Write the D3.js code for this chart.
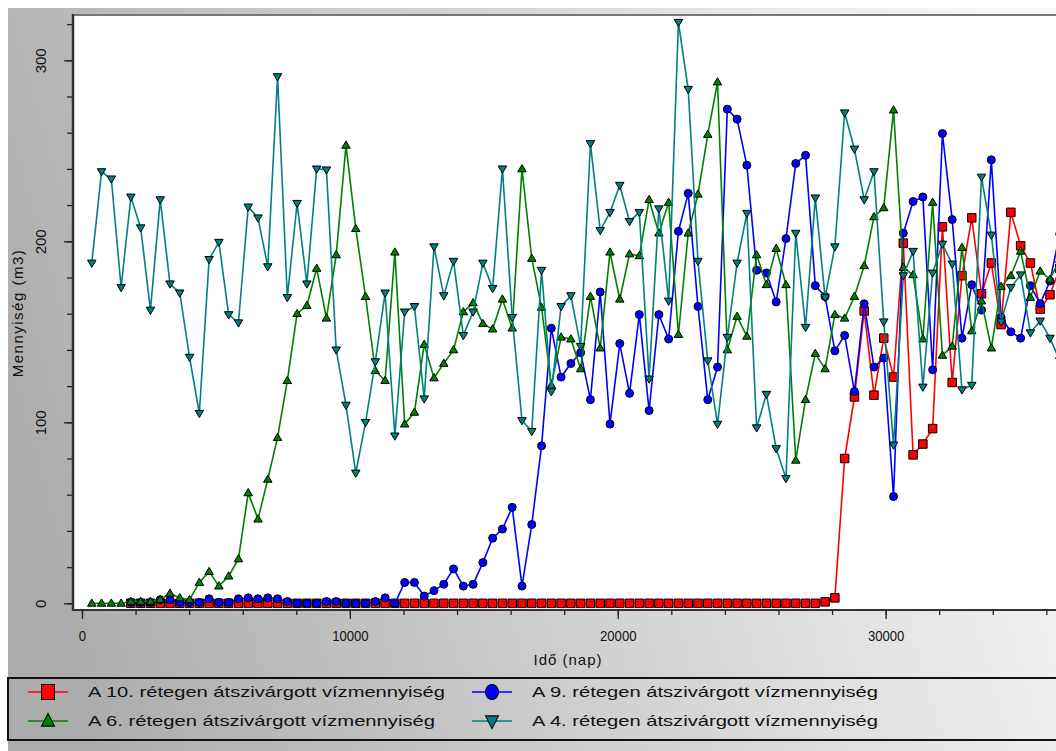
<!DOCTYPE html>
<html>
<head>
<meta charset="utf-8">
<script src="https://cdn.jsdelivr.net/npm/d3@7"></script>
<style>
  body { margin: 0; background: #fff; }
  svg { display: block; font-family: "Liberation Sans", Arial, sans-serif; }
</style>
</head>
<body>
<svg id="chart" width="1056" height="751"></svg>
<script>
// time axis (days), one point per year
const days = [
  365, 730, 1095, 1460, 1825, 2190, 2555, 2920, 3285, 3650,
  4015, 4380, 4745, 5110, 5475, 5840, 6205, 6570, 6935, 7300,
  7665, 8030, 8395, 8760, 9125, 9490, 9855, 10220, 10585, 10950,
  11315, 11680, 12045, 12410, 12775, 13140, 13505, 13870, 14235, 14600,
  14965, 15330, 15695, 16060, 16425, 16790, 17155, 17520, 17885, 18250,
  18615, 18980, 19345, 19710, 20075, 20440, 20805, 21170, 21535, 21900,
  22265, 22630, 22995, 23360, 23725, 24090, 24455, 24820, 25185, 25550,
  25915, 26280, 26645, 27010, 27375, 27740, 28105, 28470, 28835, 29200,
  29565, 29930, 30295, 30660, 31025, 31390, 31755, 32120, 32485, 32850,
  33215, 33580, 33945, 34310, 34675, 35040, 35405, 35770, 36135, 36500
];

const layer10 = [
  null, null, null, null, 0, 0, 0, 0, 0, 0,
  0, 0, 0, 0, 0, 0, 0, 0, 0, 0,
  0, 0, 0, 0, 0, 0, 0, 0, 0, 0,
  0, 0, 0, 0, 0, 0, 0, 0, 0, 0,
  0, 0, 0, 0, 0, 0, 0, 0, 0, 0,
  0, 0, 0, 0, 0, 0, 0, 0, 0, 0,
  0, 0, 0, 0, 0, 0, 0, 0, 0, 0,
  0, 0, 0, 0, 0, 0.8, 3, 80, 114, 161.5,
  115, 146.5, 125, 199, 82, 88, 96.5, 208, 122, 181,
  213, 171, 188, 154, 216, 197.5, 188, 162.5, 170.5, 185
];

const layer9 = [
  null, null, null, null, 0.5, 0.5, 0.5, 2, 2, 0.5,
  0.5, 0.5, 2.5, 0.5, 0.5, 2.5, 3, 2.5, 3, 2.5,
  1, 0, 0, 0, 1, 1, 0, 0, 0, 1,
  3, 0, 11.5, 11.5, 4, 7, 10.5, 19, 9.5, 10.5,
  22.5, 36, 41, 53, 9.5, 43.5, 87, 152, 125, 132.5,
  138.5, 112.5, 172, 99, 143.5, 116, 159.5, 106.5, 159.5, 146,
  205.5, 226.5, 164, 112.5, 130.5, 273, 267.5, 242, 184, 182.5,
  166.5, 201.5, 243, 247.5, 175.5, 169.5, 139.5, 148, 117, 165.5,
  130.5, 135.5, 59, 204.5, 222, 224.5, 129, 259.5, 212, 146.5,
  176, 162, 245, 158, 150, 146.5, 175.5, 165.5, 178, 204
];

const layer6 = [
  0, 0, 0, 0, 1, 1, 1, 2, 5.5, 3,
  2, 11.5, 17.5, 9.5, 15, 24.5, 61, 46.5, 68.5, 91.5,
  123, 160, 164.5, 185, 157.5, 192.5, 253, 207, 169.5, 128.5,
  123, 194, 99, 105.5, 143, 124.5, 132.5, 140, 161, 166,
  154.5, 151.5, 168, 152, 240, 190.5, 163.5, 120.5, 147, 146,
  129.5, 169.5, 141, 194, 168, 193, 192, 223, 204.5, 221.5,
  148.5, 204.5, 226, 259, 288, 140, 158.5, 147.5, 192.5, 176,
  196, 176, 79, 112.5, 138, 129.5, 159.5, 157.5, 169.5, 186.5,
  213.5, 218.5, 272.5, 185.5, 181.5, 146, 221.5, 137, 142, 196.5,
  150.5, 167, 141, 175, 181, 194.5, 169, 183.5, 179, 190
];

const layer4 = [
  188, 238.5, 234.5, 174.5, 224.5, 207.5, 162, 223, 176.5, 171.5,
  136, 105, 190, 199.5, 159.5, 155, 219, 213, 186, 291,
  169, 221, 176.5, 240, 239.5, 140, 109.5, 72, 100, 133.5,
  171.5, 92.5, 161, 164, 113, 197, 170, 189, 148, 161,
  188, 174, 240, 158, 101, 95, 184, 117, 164, 170,
  142, 254, 206, 216, 231, 211, 216, 124, 218, 167,
  321, 284, 189, 134, 99, 147, 188, 215.5, 97, 115.5,
  85.5, 69, 204.5, 152.5, 224, 169, 197, 271, 251, 223,
  238.5, 155.5, 87.5, 181, 194.5, 119.5, 182.5, 198.5, 187.5, 118,
  120.5, 235.5, 203.5, 155.5, 174.5, 181.5, 149.5, 156, 146.5, 134
];

const seriesLabels = [
  "A 10. rétegen átszivárgott vízmennyiség",
  "A 9. rétegen átszivárgott vízmennyiség",
  "A 6. rétegen átszivárgott vízmennyiség",
  "A 4. rétegen átszivárgott vízmennyiség"
];
const xTicks = [0, 10000, 20000, 30000];
const yTicks = [0, 100, 200, 300];

const series = [
  { label: seriesLabels[0], values: layer10, color: "#ff0000", shape: "square" },
  { label: seriesLabels[1], values: layer9, color: "#0000ff", shape: "circle" },
  { label: seriesLabels[2], values: layer6, color: "#008000", shape: "up" },
  { label: seriesLabels[3], values: layer4, color: "#008080", shape: "down" }
];

const svg = d3.select("#chart");
const plot = { left: 73, top: 15, right: 1062, bottom: 610 };

const x = d3.scaleLinear().domain([0, 36360]).range([82, 1056]);
const y = d3.scaleLinear().domain([0, 300]).range([603.3, 60.3]);

// background
const defs = svg.append("defs");
const grad = defs.append("linearGradient").attr("id", "bg")
  .attr("x1", 0).attr("y1", 0.6).attr("x2", 1).attr("y2", 0.4);
grad.append("stop").attr("offset", 0).attr("stop-color", "#acacac");
grad.append("stop").attr("offset", 1).attr("stop-color", "#f7f7f7");

svg.append("rect").attr("x", 8).attr("y", 8).attr("width", 1060).attr("height", 750)
  .attr("fill", "url(#bg)");

defs.append("clipPath").attr("id", "clip")
  .append("rect").attr("x", plot.left).attr("y", plot.top)
  .attr("width", plot.right - plot.left).attr("height", plot.bottom - plot.top);

svg.append("rect").attr("x", plot.left).attr("y", plot.top)
  .attr("width", plot.right - plot.left).attr("height", plot.bottom - plot.top)
  .attr("fill", "#fff");

// marker shapes
function marker(shape, s) {
  if (shape === "square") return d3.symbol(d3.symbolSquare, s * s)();
  if (shape === "circle") return d3.symbol(d3.symbolCircle, Math.PI * s * s / 4)();
  const h = s * 0.85, w = s / 2;
  if (shape === "up") return `M0,${-h * 0.6}L${w},${h * 0.4}L${-w},${h * 0.4}Z`;
  return `M0,${h * 0.6}L${w},${-h * 0.4}L${-w},${-h * 0.4}Z`;
}

const line = d3.line().x(d => x(d.day)).y(d => y(d.value));

const marks = svg.append("g").attr("clip-path", "url(#clip)");

series.forEach(s => {
  const pts = days.map((d, i) => ({ day: d, value: s.values[i] }))
    .filter(p => p.value !== null);
  const g = marks.append("g");
  g.append("path").datum(pts)
    .attr("d", line)
    .attr("fill", "none")
    .attr("stroke", s.color)
    .attr("stroke-width", 1.6);
  g.selectAll("path.pt").data(pts).join("path")
    .attr("class", "pt")
    .attr("transform", d => `translate(${x(d.day)},${y(d.value)})`)
    .attr("d", marker(s.shape, s.shape === "circle" ? 8 : 8.5))
    .attr("fill", s.color)
    .attr("stroke", "#000")
    .attr("stroke-width", 1);
});

// frame
svg.append("line").attr("x1", plot.left).attr("x2", plot.right)
  .attr("y1", plot.top).attr("y2", plot.top)
  .attr("stroke", "#777").attr("stroke-width", 2);
svg.append("line").attr("x1", plot.left).attr("x2", plot.left)
  .attr("y1", plot.top - 1).attr("y2", plot.bottom + 1)
  .attr("stroke", "#333").attr("stroke-width", 2.5);
svg.append("line").attr("x1", plot.left).attr("x2", plot.right)
  .attr("y1", plot.bottom).attr("y2", plot.bottom)
  .attr("stroke", "#333").attr("stroke-width", 2);

// y axis
const yAxisG = svg.append("g").attr("transform", `translate(${plot.left - 1},0)`);
yAxisG.append("g")
  .call(d3.axisLeft(y).tickValues(d3.range(0, 321, 20)).tickSize(5).tickFormat(""))
  .call(g => g.select(".domain").remove());
yAxisG.append("g")
  .call(d3.axisLeft(y).tickValues(yTicks).tickSize(8))
  .call(g => g.select(".domain").remove())
  .call(g => g.selectAll("text")
    .attr("transform", "rotate(-90)")
    .attr("x", 0).attr("y", -26).attr("dy", 0)
    .attr("text-anchor", "middle")
    .attr("font-size", 15)
    .attr("fill", "#111"));
yAxisG.selectAll("line").attr("stroke", "#222").attr("stroke-width", 1.3);

// x axis
const xAxisG = svg.append("g").attr("transform", `translate(0,${plot.bottom})`);
xAxisG.append("g")
  .call(d3.axisBottom(x).tickValues(d3.range(0, 36001, 2000)).tickSize(5).tickFormat(""))
  .call(g => g.select(".domain").remove());
xAxisG.append("g")
  .call(d3.axisBottom(x).tickValues(xTicks).tickSize(9).tickFormat(d3.format("d")))
  .call(g => g.select(".domain").remove())
  .call(g => g.selectAll("text")
    .attr("y", 31).attr("dy", 0)
    .attr("font-size", 15)
    .attr("fill", "#111")
    .attr("textLength", d => String(d).length * 7.3)
    .attr("lengthAdjust", "spacingAndGlyphs"));
xAxisG.selectAll("line").attr("stroke", "#222").attr("stroke-width", 1.3);

// axis titles
svg.append("text")
  .attr("x", 568).attr("y", 665)
  .attr("text-anchor", "middle")
  .attr("font-size", 15)
  .attr("letter-spacing", 1)
  .attr("fill", "#111")
  .text("Idő (nap)");

svg.append("text")
  .attr("transform", "translate(23,313) rotate(-90)")
  .attr("text-anchor", "middle")
  .attr("font-size", 15)
  .attr("letter-spacing", 1.5)
  .attr("fill", "#111")
  .text("Mennyiség (m3)");

// legend
svg.append("rect").attr("x", 8).attr("y", 678).attr("width", 1060).attr("height", 62)
  .attr("fill", "none").attr("stroke", "#111").attr("stroke-width", 2);

const legendPos = [[28, 692], [472, 692], [28, 721], [472, 721]];
const legendWidth = [357, 346, 347, 346];
series.forEach((s, i) => {
  const [lx, ly] = legendPos[i];
  const g = svg.append("g").attr("transform", `translate(${lx},${ly})`);
  g.append("line").attr("x1", 0).attr("x2", 40).attr("y1", 0).attr("y2", 0)
    .attr("stroke", s.color).attr("stroke-width", 1.6);
  g.append("path")
    .attr("transform", "translate(20,0) scale(1,1.15)")
    .attr("d", marker(s.shape, 13))
    .attr("fill", s.color).attr("stroke", "#000").attr("stroke-width", 1);
  g.append("text")
    .attr("x", 60).attr("y", 5)
    .attr("font-size", 15)
    .attr("fill", "#111")
    .attr("textLength", legendWidth[i])
    .attr("lengthAdjust", "spacingAndGlyphs")
    .text(s.label);
});
</script>
</body>
</html>
